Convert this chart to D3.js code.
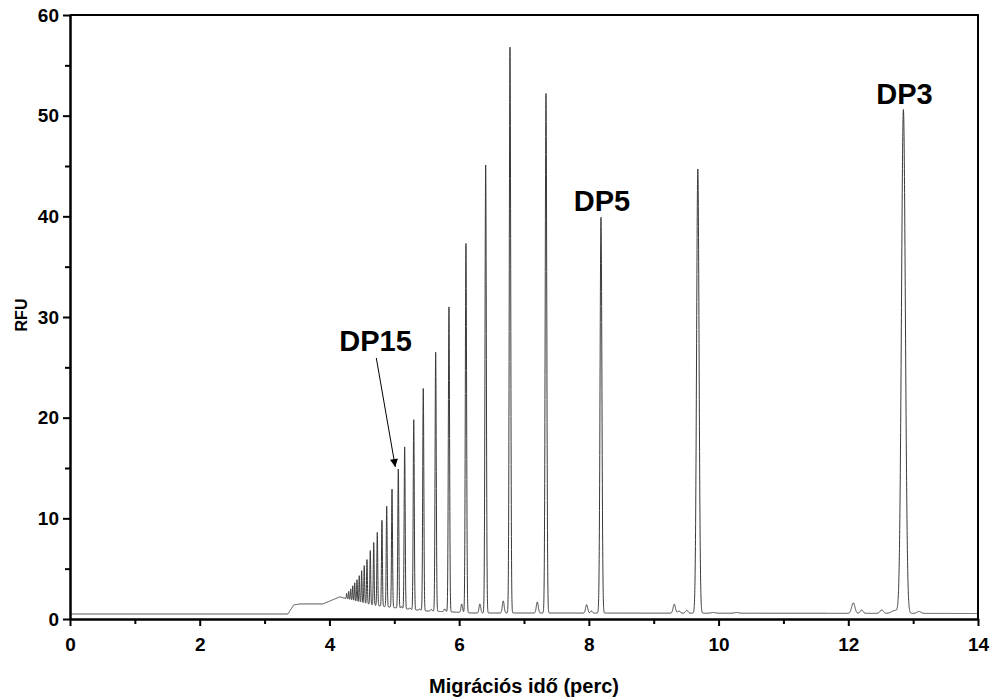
<!DOCTYPE html>
<html>
<head>
<meta charset="utf-8">
<script src="https://cdn.jsdelivr.net/npm/d3@7"></script>
<style>
  html, body { margin: 0; padding: 0; background: #fff; }
  svg { display: block; }
  text { font-family: "Liberation Sans", Arial, sans-serif; font-weight: bold; fill: #000; }
</style>
</head>
<body>
<svg id="chart" width="992" height="700"></svg>
<script>
// ---------- data ----------
// Baseline knots (migration time, RFU)
const baseTimes  = [0, 3.36, 3.45, 3.55, 3.90, 4.16, 4.45, 4.70, 4.96, 5.24, 5.50, 5.81, 6.20, 14];
const baseValues = [0.50, 0.50, 1.40, 1.50, 1.50, 2.20, 1.70, 1.36, 1.16, 0.96, 0.80, 0.72, 0.60, 0.55];

// Main oligomer peaks: apex time, apex RFU, peak width (sigma, min)
const peakTimes   = [4.266, 4.297, 4.328, 4.359, 4.390, 4.425, 4.460, 4.497, 4.537, 4.579,
                     4.630, 4.683, 4.738, 4.810, 4.883, 4.965, 5.062, 5.160, 5.300, 5.447,
                     5.638, 5.843, 6.105, 6.409, 6.784, 7.339, 8.187, 9.680, 12.850];
const peakHeights = [2.55, 2.75, 3.0, 3.3, 3.6, 3.9, 4.3, 4.8, 5.3, 5.9,
                     6.8, 7.6, 8.6, 9.8, 11.2, 12.9, 14.9, 17.1, 19.8, 22.9,
                     26.5, 31.0, 37.3, 45.1, 56.8, 52.2, 39.9, 44.7, 50.6];
const peakWidths  = [0.0050, 0.0050, 0.0052, 0.0052, 0.0054, 0.0055, 0.0056, 0.0058, 0.0060, 0.0062,
                     0.0064, 0.0066, 0.0068, 0.0070, 0.0072, 0.0075, 0.0078, 0.0080, 0.0083, 0.0086,
                     0.0090, 0.0094, 0.0098, 0.0103, 0.0110, 0.0120, 0.0140, 0.0190, 0.0300];

// Minor impurity peaks: time, apex RFU, sigma
const minorTimes   = [5.11, 5.24, 5.39, 5.57, 5.78, 6.04, 6.32, 6.68, 7.205, 7.966, 8.04,
                      9.317, 9.39, 9.51, 9.92, 10.28, 12.077, 12.205, 12.515, 12.72, 13.09];
const minorHeights = [1.25, 1.10, 1.00, 0.95, 1.00, 1.49, 1.50, 1.80, 1.70, 1.42, 0.80,
                      1.47, 0.80, 0.85, 0.65, 0.65, 1.60, 0.90, 0.90, 0.85, 0.75];
const minorWidths  = [0.010, 0.010, 0.010, 0.012, 0.012, 0.012, 0.013, 0.014, 0.015, 0.016, 0.015,
                      0.018, 0.018, 0.020, 0.030, 0.030, 0.025, 0.022, 0.025, 0.050, 0.030];

// Axes
const xTicks = [0, 2, 4, 6, 8, 10, 12, 14];
const xMinorTicks = [1, 3, 5, 7, 9, 11, 13];
const yTicks = [0, 10, 20, 30, 40, 50, 60];
const yMinorTicks = [5, 15, 25, 35, 45, 55];
const xTitle = "Migrációs idő (perc)";
const yTitle = "RFU";

// Annotations: label, peak time it refers to
const labels = [
  { text: "DP15", t: 5.062 },
  { text: "DP5",  t: 8.187 },
  { text: "DP3",  t: 12.850 }
];

// ---------- layout ----------
const W = 992, H = 700;
const margin = { top: 15, right: 14, bottom: 81, left: 70 };
const iw = W - margin.left - margin.right;
const ih = H - margin.top - margin.bottom;

const svg = d3.select("#chart");
const defs = svg.append("defs");
const g = svg.append("g").attr("transform", `translate(${margin.left},${margin.top})`);

const x = d3.scaleLinear().domain([0, 14]).range([0, iw]);
const y = d3.scaleLinear().domain([0, 60]).range([ih, 0]);

// ---------- build the electropherogram trace ----------
const baseline = d3.scaleLinear().domain(baseTimes).range(baseValues).clamp(true);
const peaks = [];
peakTimes.forEach((t, i) => peaks.push({ t, h: peakHeights[i], s: peakWidths[i] }));
minorTimes.forEach((t, i) => peaks.push({ t, h: minorHeights[i], s: minorWidths[i] }));
peaks.forEach(p => { p.a = Math.max(0, p.h - baseline(p.t)); });

const times = d3.range(0, 14.0005, 0.001);
const trace = times.map(t => {
  let v = baseline(t);
  for (const p of peaks) {
    const d = (t - p.t) / p.s;
    if (d > -7 && d < 7) v += p.a * Math.exp(-0.5 * d * d);
  }
  return [t, v];
});

defs.append("clipPath").attr("id", "clip")
  .append("rect").attr("x", 0).attr("y", 0).attr("width", iw).attr("height", ih);

const line = d3.line().x(d => x(d[0])).y(d => y(d[1]));
g.append("path")
  .datum(trace)
  .attr("clip-path", "url(#clip)")
  .attr("fill", "none")
  .attr("stroke", "#3a3a3a")
  .attr("stroke-width", 1)
  .attr("stroke-linejoin", "round")
  .attr("d", line);

// ---------- axes ----------
const xAxis = g.append("g").attr("transform", `translate(0,${ih})`)
  .call(d3.axisBottom(x).tickValues(xTicks).tickFormat(d3.format("d")).tickSize(7).tickSizeOuter(0).tickPadding(12));
const xMinor = g.append("g").attr("transform", `translate(0,${ih})`)
  .call(d3.axisBottom(x).tickValues(xMinorTicks).tickFormat("").tickSize(5).tickSizeOuter(0));
const yAxis = g.append("g")
  .call(d3.axisLeft(y).tickValues(yTicks).tickFormat(d3.format("d")).tickSize(7).tickSizeOuter(0).tickPadding(4));
const yMinor = g.append("g")
  .call(d3.axisLeft(y).tickValues(yMinorTicks).tickFormat("").tickSize(5).tickSizeOuter(0));

[xAxis, xMinor, yAxis, yMinor].forEach(a => {
  a.selectAll("path.domain").attr("stroke", "#000").attr("stroke-width", 2);
  a.selectAll(".tick line").attr("stroke", "#000").attr("stroke-width", 2);
  a.selectAll(".tick text").attr("font-size", 19).attr("font-weight", "bold")
    .attr("font-family", '"Liberation Sans", Arial, sans-serif').attr("fill", "#000");
});

// Top and right frame lines
g.append("line").attr("x1", 0).attr("x2", iw).attr("y1", 0).attr("y2", 0)
  .attr("stroke", "#000").attr("stroke-width", 2);
g.append("line").attr("x1", iw).attr("x2", iw).attr("y1", -1).attr("y2", ih)
  .attr("stroke", "#000").attr("stroke-width", 2);

// Axis titles
svg.append("text")
  .attr("x", margin.left + iw / 2).attr("y", 693)
  .attr("text-anchor", "middle").attr("font-size", 20)
  .text(xTitle);
svg.append("text")
  .attr("transform", `translate(27,${margin.top + ih / 2 - 2}) rotate(-90)`)
  .attr("text-anchor", "middle").attr("font-size", 16)
  .text(yTitle);

// ---------- annotations ----------
const peakApex = t => {
  const i = Math.round(t / 0.001);
  return trace[Math.min(trace.length - 1, i)][1];
};

// DP5, DP3: centred just above their peaks
labels.filter(l => l.text !== "DP15").forEach(l => {
  g.append("text")
    .attr("x", x(l.t) + 1)
    .attr("y", y(peakApex(l.t)) - 6)
    .attr("text-anchor", "middle")
    .attr("font-size", 29)
    .text(l.text);
});

// DP15: label up-left with an arrow to the peak apex
const dp15 = labels.find(l => l.text === "DP15");
const apexY = y(peakApex(dp15.t));
const tipX = x(dp15.t) - 3, tipY = apexY - 2;
const labX = x(dp15.t) - 59, labY = apexY - 118;
g.append("text")
  .attr("x", labX).attr("y", labY)
  .attr("font-size", 29)
  .text(dp15.text);

defs.append("marker")
  .attr("id", "arrow").attr("viewBox", "0 0 10 10")
  .attr("refX", 10).attr("refY", 5)
  .attr("markerWidth", 9).attr("markerHeight", 8)
  .attr("markerUnits", "userSpaceOnUse")
  .attr("orient", "auto")
  .append("path").attr("d", "M0,0 L10,5 L0,10 Z").attr("fill", "#000");

g.append("line")
  .attr("x1", labX + 37).attr("y1", labY + 7)
  .attr("x2", tipX).attr("y2", tipY)
  .attr("stroke", "#000").attr("stroke-width", 1)
  .attr("marker-end", "url(#arrow)");
</script>
</body>
</html>
